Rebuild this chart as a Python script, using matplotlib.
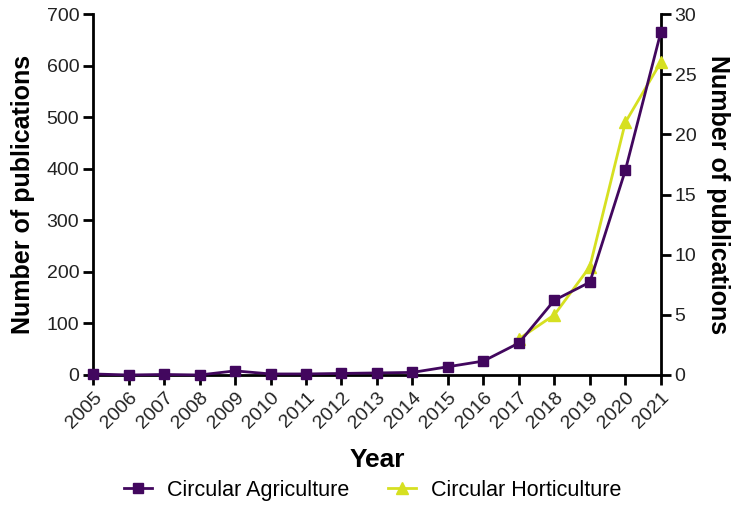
#Publications per year chart, two y axes

import matplotlib.pyplot as plt

#Data
years = list(range(2005, 2022))
agriculture = [2, 0, 1, 0, 8, 2, 2, 3, 4, 5, 16, 27, 62, 145, 180, 397, 665]
horti_years = [2017, 2018, 2019, 2020, 2021]
horticulture = [3, 5, 9, 21, 26]

purple = "#42075e"
yellow = "#d6e021"
txt = "#222222"

plt.rcParams['font.family'] = ['Liberation Sans', 'DejaVu Sans']

fig = plt.figure(figsize=(7.45, 5.23), dpi=100)
ax = fig.add_axes([0.125, 0.283, 0.762, 0.69])
ax2 = ax.twinx()

#Left axis: agriculture
l1, = ax.plot(years, agriculture, color=purple, marker="s", markersize=7.5,
              linewidth=2, label="Circular Agriculture", clip_on=False, zorder=5)
ax.set_ylim(0, 700)
ax.set_yticks(range(0, 701, 100))
ax.set_xlim(2005, 2021)
ax.set_xticks(years)
ax.set_xticklabels([str(y) for y in years], rotation=45, ha="right",
                   rotation_mode="anchor", fontsize=14)

#Right axis: horticulture
l2, = ax2.plot(horti_years, horticulture, color=yellow, marker="^", markersize=8.5,
               linewidth=2, label="Circular Horticulture", clip_on=False, zorder=4)
ax2.set_ylim(0, 30)
ax2.set_yticks(range(0, 31, 5))

#Put purple line on top of yellow
ax.set_zorder(ax2.get_zorder() + 1)
ax.patch.set_visible(False)

for a in (ax, ax2):
    a.spines["top"].set_visible(False)
    for s in ("left", "right", "bottom"):
        a.spines[s].set_linewidth(2)
    a.tick_params(width=2, length=7, labelsize=14, labelcolor=txt, pad=3)
ax.spines["right"].set_visible(False)
ax2.spines["left"].set_visible(False)
ax2.spines["bottom"].set_visible(False)

ax.set_xlabel("Year", fontsize=19, fontweight="bold", labelpad=12)
ax.set_ylabel("Number of publications", fontsize=18, fontweight="bold", labelpad=8)
ax2.set_ylabel("Number of publications", fontsize=18, fontweight="bold",
               rotation=270, labelpad=24)

fig.legend(handles=[l1, l2], loc="center", bbox_to_anchor=(0.5, 0.063),
           ncol=2, frameon=False, fontsize=15.5, handlelength=1.3,
           handletextpad=0.7, columnspacing=1.8)

plt.savefig("out.png", dpi=100)
